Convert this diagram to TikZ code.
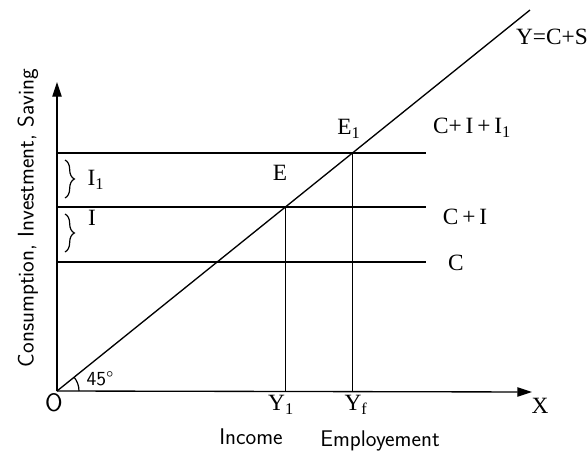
\documentclass[tikz,border=0pt]{standalone}
\usepackage{fontspec}
\setmainfont{Liberation Serif}
\usetikzlibrary{arrows.meta,decorations.pathreplacing}
\begin{document}
\begin{tikzpicture}[x=0.75pt,y=-0.75pt, line width=1pt,
  lbl/.style={font=\fontsize{17.5}{20}\selectfont, inner sep=0},
  hand/.style={font=\sffamily\fontsize{17}{20}\selectfont, inner sep=0},
  ax/.style={-{Triangle[length=11pt,width=7pt]}},
  bracestyle/.style={decorate, decoration={brace, amplitude=7pt}, line width=0.9pt}]
\useasboundingbox (0,0) rectangle (587,457);
\coordinate (O) at (57,391);
\coordinate (yt) at (57,82);
\coordinate (xt) at (532,392);
\coordinate (T) at (530,10);
\draw[ax] (O) -- (yt);
\draw[ax] (O) -- (xt);
\draw (O) -- (T);
% horizontal lines
\coordinate (c0) at (57,262);  \coordinate (c1) at (426,262);
\coordinate (ci0) at (57,207); \coordinate (ci1) at (426,207);
\coordinate (cii0) at (57,153); \coordinate (cii1) at (426,153);
\draw (c0) -- (c1);
\draw (ci0) -- (ci1);
\draw (cii0) -- (cii1);
\coordinate (E) at (intersection of O--T and ci0--ci1);
\coordinate (E1) at (intersection of O--T and cii0--cii1);
\draw (E) -- (E |- O);
\draw (E1) -- (E1 |- O);
% arc 45
\draw[line width=0.9pt] (O) ++(22,0) arc[start angle=0, end angle=-38.85, radius=22];
% braces
\coordinate (b1t) at (65,160); \coordinate (b1b) at (65,198);
\coordinate (b2t) at (65,214); \coordinate (b2b) at (65,252);
\draw[bracestyle] (b1t) -- (b1b);
\draw[bracestyle] (b2t) -- (b2b);
% labels
\node[lbl] (lI1) at (96,180) {I\textsubscript{1}};
\node[lbl] (lI) at (92,218) {I};
\node[lbl] (lE) at (280,173) {E};
\node[lbl] (lE1) at (349,129) {E\textsubscript{1}};
\node[lbl] (lC) at (456,263) {C};
\node[lbl] (lCI) at (465,217) {C\,+\,I};
\node[lbl] (lCII) at (472,128) {C+\,I\,+\,I\textsubscript{1}};
\node[lbl] (lY) at (552,37) {Y=C+S};
\node[lbl] (lX) at (540,406) {X};
\node[lbl] (lY1) at (281,405) {Y\textsubscript{1}};
\node[lbl] (lYf) at (356,405) {Y\textsubscript{f}};
\node[hand, font=\sffamily\fontsize{19}{20}\selectfont] (lO) at (54,403) {O};
\node[hand, font=\sffamily\fontsize{15}{18}\selectfont] (l45) at (100,379) {45\textdegree};
\node[hand] (linc) at (251,437) {Income};
\node[hand] (lemp) at (380,441) {Employement};
\node[hand, rotate=90] (lyax) at (28,218) {Consumption, Investment, Saving};
\end{tikzpicture}
\end{document}
